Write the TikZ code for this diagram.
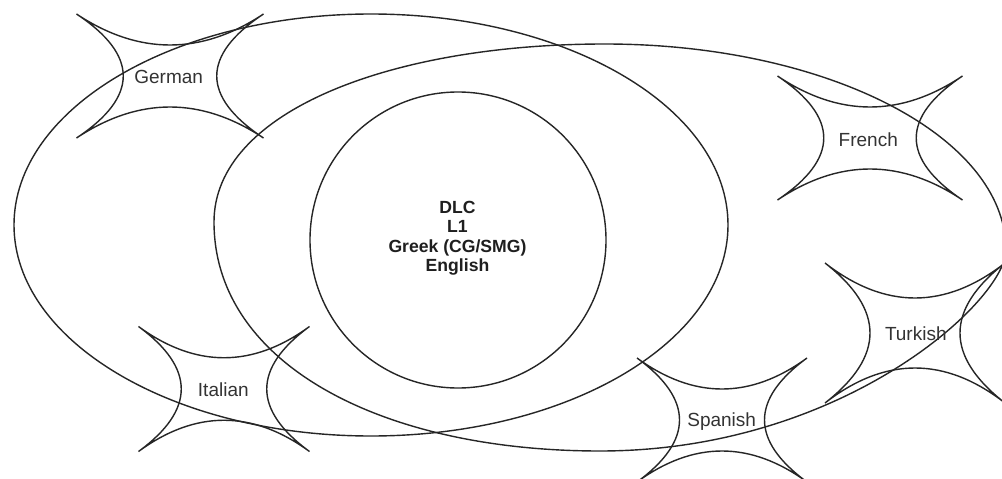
\documentclass[tikz,border=0pt]{standalone}
\usepackage{fontspec}
\setmainfont{Liberation Sans}
\newcommand\cuspstar[5]{%
  \draw[outline,shift={(#2,#3)}] (-#4,-#5)
    .. controls ({-#4/3},{-#5/3}) and ({#4/3},{-#5/3}) .. (#4,-#5)
    .. controls ({#4/3},{-#5/3}) and ({#4/3},{#5/3}) .. (#4,#5)
    .. controls ({#4/3},{#5/3}) and ({-#4/3},{#5/3}) .. (-#4,#5)
    .. controls ({-#4/3},{#5/3}) and ({-#4/3},{-#5/3}) .. cycle;
  \coordinate (#1) at (#2,#3);}
\begin{document}
\begin{tikzpicture}[x=1pt,y=-1pt,
  outline/.style={draw=black!85, line width=1.4pt},
  lbl/.style={font=\fontsize{19}{21}\selectfont, text=black!80, inner sep=0pt, anchor=base},
  core/.style={font=\fontsize{17.6}{19.5}\selectfont\bfseries, text=black!88, inner sep=0pt, align=center}]
\useasboundingbox (0,0) rectangle (1002,479);
\clip (0,0) rectangle (1002,479);
\fill[white] (0,0) rectangle (1002,479);

% outer left ellipse
\draw[outline] (371,225) ellipse [x radius=357, y radius=211];
% second (right) oval
\draw[outline] (214,222) .. controls (214,112) and (390,44) .. (605,44)
  .. controls (826,44) and (1006,136) .. (1006,250)
  .. controls (1006,300) and (844,451) .. (600,451)
  .. controls (380,451) and (214,363) .. cycle;
% inner circle
\draw[outline] (458,240) circle [radius=148];

% four-point stars
\cuspstar{sGerman}{170}{76}{93.5}{62}
\cuspstar{sFrench}{870}{138}{92.5}{62}
\cuspstar{sTurkish}{915}{333}{90}{70}
\cuspstar{sSpanish}{722}{420}{85}{62}
\cuspstar{sItalian}{224}{389}{85.5}{62.5}

\node[lbl] (german) at (168.7,83.3) {German};
\node[lbl] (french) at (868.3,146) {French};
\node[lbl] (turkish) at (915.8,340) {Turkish};
\node[lbl] (spanish) at (721.7,426) {Spanish};
\node[lbl] (italian) at (223.3,396) {Italian};

\node[core] (dlc) at (457.5,238) {DLC\\L1\\Greek (CG/SMG)\\English};
\end{tikzpicture}
\end{document}
